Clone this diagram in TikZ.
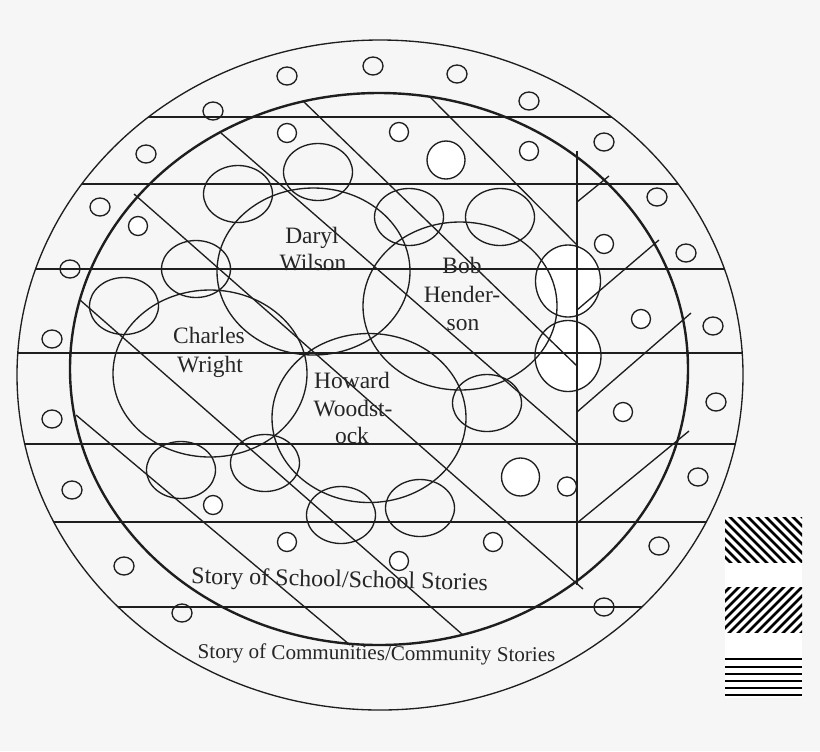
\documentclass[tikz,border=0pt]{standalone}
\usepackage{fontspec}
\setmainfont{Liberation Serif}
\definecolor{ink}{HTML}{1E1E1E}
\definecolor{bgc}{HTML}{F6F6F6}
\definecolor{txt}{HTML}{262626}
\begin{document}
\begin{tikzpicture}[x=0.75pt,y=-0.75pt,
  thinl/.style={draw=ink,line width=1pt},
  thickl/.style={draw=ink,line width=1.8pt},
  hatchl/.style={draw=black,line width=1.9pt},
  person/.style={thinl},
  namefont/.style={font=\fontsize{17.6}{21}\selectfont,text=txt,inner sep=0pt,anchor=base},
]
\fill[bgc] (0,0) rectangle (820,751);
\useasboundingbox (0,0) rectangle (820,751);

% white fills (drawn below all strokes)
\fill[white] (568,281) ellipse [x radius=32.5, y radius=36];
\fill[white] (568,356) ellipse [x radius=33, y radius=35.5];
\foreach \p in {(446,160),(520.5,477)} \fill[white] \p circle [radius=19];
\foreach \p in {(287,133),(399,132),(529,151),(138,226),(604,244),(641,319),(623,412),(567,486.5),(213,505),(287,542),(399,561),(493,542)}
  \fill[white] \p circle [radius=9.5];

% horizontal bands clipped to the outer ellipse
\begin{scope}
  \clip (380,375) ellipse [x radius=363, y radius=335];
  \foreach \yy in {117,184,269,353,444,522,607}
    \draw[thinl] (0,\yy) -- (820,\yy);
\end{scope}

% outer and inner ellipses
\draw[thinl] (380,375) ellipse [x radius=363, y radius=335];
\draw[thickl] (379,369) ellipse [x radius=309, y radius=276];

% diagonal lines (school strata)
\coordinate (a1) at (430,97);   \coordinate (a2) at (577,245);
\coordinate (b1) at (303,101);  \coordinate (b2) at (577,366);
\coordinate (c1) at (221,133);  \coordinate (c2) at (577,443);
\coordinate (d1) at (134,194);  \coordinate (d2) at (583,589);
\coordinate (e1) at (80,300);   \coordinate (e2) at (463,635);
\coordinate (f1) at (76,415);   \coordinate (f2) at (350,645);
\draw[thinl] (a1) -- (a2);
\draw[thinl] (b1) -- (b2);
\draw[thinl] (c1) -- (c2);
\draw[thinl] (d1) -- (d2);
\draw[thinl] (e1) -- (e2);
\draw[thinl] (f1) -- (f2);

% vertical line and its branches
\coordinate (v1) at (577,151); \coordinate (v2) at (577,585);
\draw[thinl] (v1) -- (v2);
\coordinate (s1a) at (577,202); \coordinate (s1b) at (609,176);
\coordinate (s2a) at (577,310); \coordinate (s2b) at (659,240);
\coordinate (s3a) at (577,412); \coordinate (s3b) at (691,313);
\coordinate (s4a) at (577,523); \coordinate (s4b) at (689,431);
\draw[thinl] (s1a) -- (s1b);
\draw[thinl] (s2a) -- (s2b);
\draw[thinl] (s3a) -- (s3b);
\draw[thinl] (s4a) -- (s4b);

% persons
\draw[person] (313.5,271.5) ellipse [x radius=96.5, y radius=83.5];
\draw[person] (460,306) ellipse [x radius=97, y radius=84];
\draw[person] (210,373.5) ellipse [x radius=97, y radius=83.5];
\draw[person] (369,418) ellipse [x radius=97, y radius=84.5];

% medium ellipses
\foreach \p in {(318,172),(238,194),(409,217),(500,217),(196,269),(124,306),(487,403),(181,470),(265,463),(341,515),(420,508)}
  \draw[thinl] \p ellipse [x radius=34.5, y radius=28.5];
\draw[thinl] (568,281) ellipse [x radius=32.5, y radius=36];
\draw[thinl] (568,356) ellipse [x radius=33, y radius=35.5];

% small white circles
\foreach \p in {(446,160),(520.5,477)} \draw[thinl] \p circle [radius=19];
\foreach \p in {(287,133),(399,132),(529,151),(138,226),(604,244),(641,319),(623,412),(567,486.5),(213,505),(287,542),(399,561),(493,542)}
  \draw[thinl] \p circle [radius=9.5];

% ring circles
\foreach \p in {(213,111),(287,76),(373,66),(457,74),(529,101),(604,142),(657,197),(686,253),(713,326),(716,402),(698,477),(659,546),(604,607),(182,613),(124,566),(72,490),(52,419),(52,339),(70,269),(100,207),(146,154)}
  \draw[thinl] \p ellipse [x radius=10, y radius=9];

% names
\node[namefont] (daryl1) at (312,243) {Daryl};
\node[namefont] (daryl2) at (313,270) {Wilson};
\node[namefont] (charles1) at (209,343) {Charles};
\node[namefont] (charles2) at (210,372) {Wright};
\node[namefont] (howard1) at (352,388) {Howard};
\node[namefont] (howard2) at (353,416) {Woodst-};
\node[namefont] (howard3) at (352,443) {ock};
\node[namefont] (bob1) at (462,273) {Bob};
\node[namefont] (bob2) at (462,302) {Hender-};
\node[namefont] (bob3) at (463,330) {son};

\node[font=\fontsize{18}{21}\selectfont,text=txt,inner sep=0pt,anchor=base,rotate=-1.3] (school) at (339.5,587) {Story of School/School Stories};
\node[font=\fontsize{15.8}{19}\selectfont,text=txt,inner sep=0pt,anchor=base,rotate=-0.5] (community) at (376.5,660) {Story of Communities/Community Stories};

% legend
\fill[white] (725,517) rectangle (802,698);
\begin{scope}
  \clip (725,517) rectangle (802,562);
  \foreach \i in {-7,...,10}
    \draw[hatchl] (725+9*\i,512) -- ++(55,55);
\end{scope}
\begin{scope}
  \clip (725,587) rectangle (802,632);
  \foreach \i in {-7,...,10}
    \draw[hatchl] (725+9*\i,637) -- ++(55,-55);
\end{scope}
\foreach \yy in {659.3,666.7,674,680.7,687.7,695}
  \draw[draw=black,line width=1.5pt] (725,\yy) -- (802,\yy);
\end{tikzpicture}
\end{document}
